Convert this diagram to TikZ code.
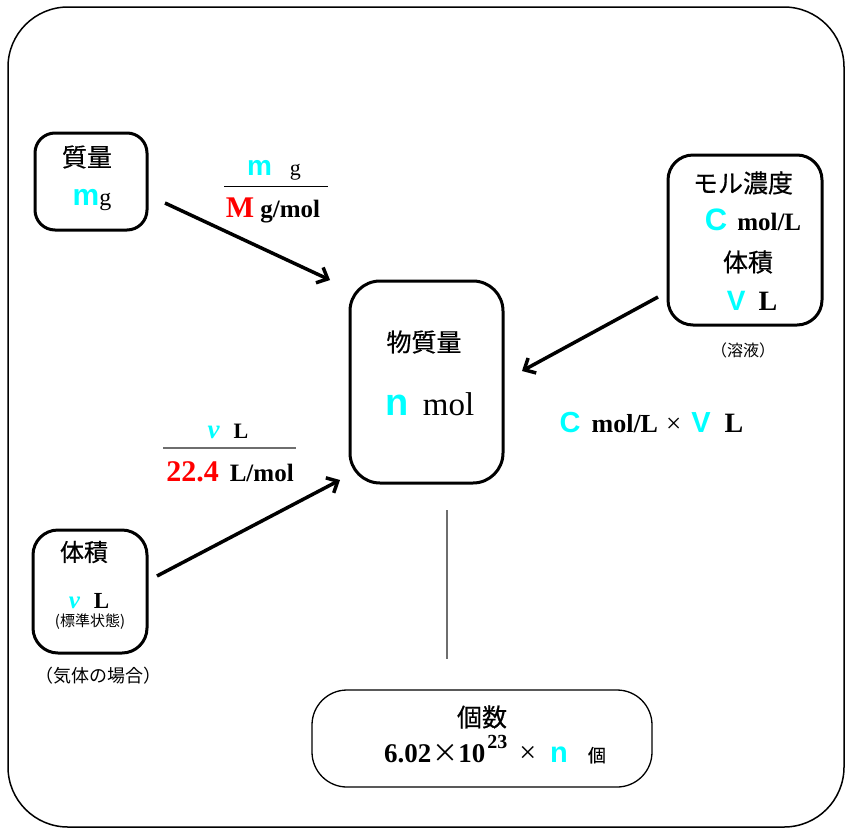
\documentclass[tikz,border=0pt]{standalone}
\usepackage{fontspec}
\setmainfont{Liberation Serif}
\newfontfamily\jp[FakeBold=0.45]{Noto Sans CJK JP}
\newfontfamily\jps{Noto Sans CJK JP}
\newfontfamily\ar{Liberation Sans}
\usetikzlibrary{arrows.meta}
\newcommand\fs[1]{\fontsize{#1}{#1}\selectfont}
\definecolor{cy}{RGB}{0,255,255}
\definecolor{rd}{RGB}{255,0,0}
\definecolor{gline}{RGB}{110,110,110}
\begin{document}
\begin{tikzpicture}[x=1pt,y=-1pt,
  box/.style={draw,line width=3pt,rounded corners=#1,inner sep=0pt},
  arr/.style={line width=3.5pt,-{Straight Barb[length=9pt,width=17pt]}},
  tb/.style={inner sep=0pt,anchor=base},
  tc/.style={inner sep=0pt,anchor=center}]
\useasboundingbox (0,0) rectangle (848,828);
\draw[line width=1.5pt,rounded corners=60pt] (8,7) rectangle (844,827);

% boxes
\node[box=20pt,minimum width=112pt,minimum height=97pt] (mass) at (91,181.5) {};
\node[box=30pt,minimum width=153pt,minimum height=202pt] (mol) at (426.5,382) {};
\node[box=25pt,minimum width=154pt,minimum height=170pt] (sol) at (745,240) {};
\node[box=25pt,minimum width=114pt,minimum height=123pt] (gas) at (90,591.5) {};
\node[draw,line width=1.3pt,rounded corners=35pt,minimum width=340pt,minimum height=97pt,inner sep=0pt] (num) at (482,738.5) {};

% texts: mass
\node[tc] (t1) at (87,157) {\jp\fs{25}質量};
\node[tb] (t2) at (92,205) {{\ar\bfseries\fs{30}\color{cy}m}{\fs{24}g}};
% fraction m/M
\node[tb] (f1) at (274,175) {{\ar\bfseries\fs{28}\color{cy}m}\hspace{18pt}{\fs{22}g}};
\node[tb] (f2) at (273,217) {{\bfseries\fs{30}\color{rd}M}\hspace{6pt}{\bfseries\fs{25}g/mol}};
\draw[line width=1pt] (224,186) -- (328,186);

% center
\node[tc] (t3) at (424,342) {\jp\fs{25}物質量};
\node[tb] (t4) at (430,415) {{\ar\bfseries\fs{38}\color{cy}n}\hspace{14pt}{\fs{33}mol}};

% solution box
\node[tc] (t5) at (743,183) {\jp\fs{25}モル濃度};
\node[tb] (t6) at (753,230) {{\ar\bfseries\fs{31}\color{cy}C}\hspace{10pt}{\bfseries\fs{25}mol/L}};
\node[tc] (t7) at (748,262) {\jp\fs{25}体積};
\node[tb] (t8) at (752,310) {{\ar\bfseries\fs{28}\color{cy}V}\hspace{13pt}{\bfseries\fs{28}L}};
\node[tc] (t9) at (743,350) {\jps\fs{16}（溶液）};
\node[tb] (t10) at (651.5,432) {{\ar\bfseries\fs{29}\color{cy}C}\hspace{11pt}{\bfseries\fs{26}mol/L}\hspace{8pt}{\fs{27}×}\hspace{10pt}{\ar\bfseries\fs{29}\color{cy}V}\hspace{14pt}{\bfseries\fs{28}L}};

% fraction v/22.4
\node[tb] (f3) at (228,438) {{\bfseries\itshape\fs{27}\color{cy}ν}\hspace{14pt}{\bfseries\fs{22}L}};
\node[tb] (f4) at (230,481) {{\bfseries\fs{30}\color{rd}22.4}\hspace{11pt}{\bfseries\fs{25}L/mol}};
\draw[line width=1.5pt,gline] (163,448) -- (296,448);

% gas box
\node[tc] (t11) at (84,552) {\jp\fs{24}体積};
\node[tb] (t12) at (89,608) {{\bfseries\itshape\fs{25}\color{cy}ν}\hspace{14pt}{\bfseries\fs{23}L}};
\node[tc] (t13) at (90,622) {\jps\fs{15}(標準状態)};
\node[tc] (t14) at (98,676) {\jps\fs{18}（気体の場合）};

% count box
\node[tc] (t15) at (482,717) {\jp\fs{25}個数};
\node[tb] (t16) at (495,762) {{\bfseries\fs{27}6.02}\hspace{1pt}{\jps\fs{26}×}{\bfseries\fs{27}10}\raisebox{14pt}{\hspace{2pt}\bfseries\fs{20}23}\hspace{12pt}{\fs{30}×}\hspace{14pt}{\ar\bfseries\fs{29}\color{cy}n}\hspace{20pt}{\jp\fs{18}個}};

% connectors
\coordinate (a1s) at (165,203);
\coordinate (a1e) at (330,280);
\coordinate (a2s) at (658,297);
\coordinate (a2e) at (522,371);
\coordinate (a3s) at (157,576);
\coordinate (a3e) at (340,480);
\coordinate (vs) at (447,510);
\coordinate (ve) at (447,659);
\draw[arr] (a1s) -- (a1e);
\draw[arr] (a2s) -- (a2e);
\draw[arr] (a3s) -- (a3e);
\draw[line width=1.5pt,gline] (vs) -- (ve);
\end{tikzpicture}
\end{document}
